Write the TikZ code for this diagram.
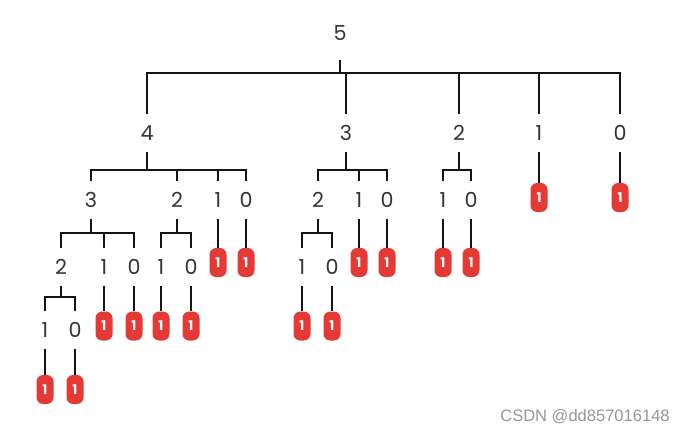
\documentclass[tikz,border=0pt]{standalone}
\usepackage{fontspec}
\setmainfont{Poppins}
\newfontfamily\wmfont{Liberation Sans}
\definecolor{leafred}{RGB}{229,57,53}
\definecolor{labgray}{RGB}{51,51,51}
\definecolor{edgeblack}{RGB}{20,20,20}
\definecolor{wmgray}{RGB}{150,150,150}
\begin{document}
\begin{tikzpicture}[x=0.75pt,y=-0.75pt,
  lab/.style={inner sep=0pt, minimum height=27.75pt, text=labgray, font=\fontsize{15.5}{15.5}\selectfont},
  rootlab/.style={lab, minimum height=40.5pt},
  leaf/.style={fill=leafred, rounded corners=5pt, minimum width=12.75pt, minimum height=21.75pt, inner sep=0pt, text=white, font=\fontsize{10}{10}\selectfont\bfseries},
  edge/.style={draw=edgeblack, line width=1.5pt, line join=miter},
  wm/.style={inner sep=0pt, text=wmgray, font=\wmfont\fontsize{12.4}{12.4}\selectfont}]
\useasboundingbox (0,0) rectangle (685,433);
% level 0
\node[rootlab] (r) at (340,33) {5};
% level 1
\node[lab] (a4) at (147,133) {4};
\node[lab] (a3) at (346,133) {3};
\node[lab] (a2) at (459,133) {2};
\node[lab] (a1) at (539,133) {1};
\node[lab] (a0) at (620,133) {0};
\coordinate (rbar) at (340,73);
% level 2
\node[lab] (b3) at (91,200) {3};
\node[lab] (b2) at (177,200) {2};
\node[lab] (b1) at (218,200) {1};
\node[lab] (b0) at (246,200) {0};
\node[lab] (c2) at (318,200) {2};
\node[lab] (c1) at (359,200) {1};
\node[lab] (c0) at (387,200) {0};
\node[lab] (d1) at (443,200) {1};
\node[lab] (d0) at (471,200) {0};
\coordinate (a4bar) at (147,170);
\coordinate (a3bar) at (346,170);
\coordinate (a2bar) at (459,170);
\node[leaf] (la1) at (539,197.5) {1};
\node[leaf] (la0) at (620,197.5) {1};
% level 3
\node[lab] (e2) at (61,267) {2};
\node[lab] (e1) at (104,267) {1};
\node[lab] (e0) at (134,267) {0};
\node[lab] (f1) at (161,267) {1};
\node[lab] (f0) at (191,267) {0};
\node[lab] (g1) at (302,267) {1};
\node[lab] (g0) at (332,267) {0};
\coordinate (b3bar) at (91,233);
\coordinate (b2bar) at (177,233);
\coordinate (c2bar) at (318,233);
\node[leaf] (lb1) at (218,262.5) {1};
\node[leaf] (lb0) at (246,262.5) {1};
\node[leaf] (lc1) at (359,262.5) {1};
\node[leaf] (lc0) at (387,262.5) {1};
\node[leaf] (ld1) at (443,262.5) {1};
\node[leaf] (ld0) at (471,262.5) {1};
% level 4
\node[lab] (h1) at (45,330) {1};
\node[lab] (h0) at (75,330) {0};
\coordinate (e2bar) at (61,297);
\node[leaf] (le1) at (104,326) {1};
\node[leaf] (le0) at (134,326) {1};
\node[leaf] (lf1) at (161,326) {1};
\node[leaf] (lf0) at (191,326) {1};
\node[leaf] (lg1) at (302,326) {1};
\node[leaf] (lg0) at (332,326) {1};
% level 5
\node[leaf] (lh1) at (45,389.5) {1};
\node[leaf] (lh0) at (75,389.5) {1};
% watermark
\node[wm] (wmark) at (585,417) {CSDN @dd857016148};
% connectors: brackets
\draw[edge] (r.south) -- (r.south |- rbar);
\draw[edge] (a4.north) |- (rbar) -| (a0.north);
\draw[edge] (a3.north) -- (a3.north |- rbar);
\draw[edge] (a2.north) -- (a2.north |- rbar);
\draw[edge] (a1.north) -- (a1.north |- rbar);

\draw[edge] (a4.south) -- (a4.south |- a4bar);
\draw[edge] (b3.north) |- (a4bar) -| (b0.north);
\draw[edge] (b2.north) -- (b2.north |- a4bar);
\draw[edge] (b1.north) -- (b1.north |- a4bar);

\draw[edge] (a3.south) -- (a3.south |- a3bar);
\draw[edge] (c2.north) |- (a3bar) -| (c0.north);
\draw[edge] (c1.north) -- (c1.north |- a3bar);

\draw[edge] (a2.south) -- (a2.south |- a2bar);
\draw[edge] (d1.north) |- (a2bar) -| (d0.north);

\draw[edge] (b3.south) -- (b3.south |- b3bar);
\draw[edge] (e2.north) |- (b3bar) -| (e0.north);
\draw[edge] (e1.north) -- (e1.north |- b3bar);

\draw[edge] (b2.south) -- (b2.south |- b2bar);
\draw[edge] (f1.north) |- (b2bar) -| (f0.north);

\draw[edge] (c2.south) -- (c2.south |- c2bar);
\draw[edge] (g1.north) |- (c2bar) -| (g0.north);

\draw[edge] (e2.south) -- (e2.south |- e2bar);
\draw[edge] (h1.north) |- (e2bar) -| (h0.north);
% connectors: to leaves
\foreach \p/\l in {a1/la1, a0/la0, b1/lb1, b0/lb0, c1/lc1, c0/lc0, d1/ld1, d0/ld0,
                   e1/le1, e0/le0, f1/lf1, f0/lf0, g1/lg1, g0/lg0, h1/lh1, h0/lh0}
  \draw[edge] (\p.south) -- (\l.north);
\end{tikzpicture}
\end{document}
